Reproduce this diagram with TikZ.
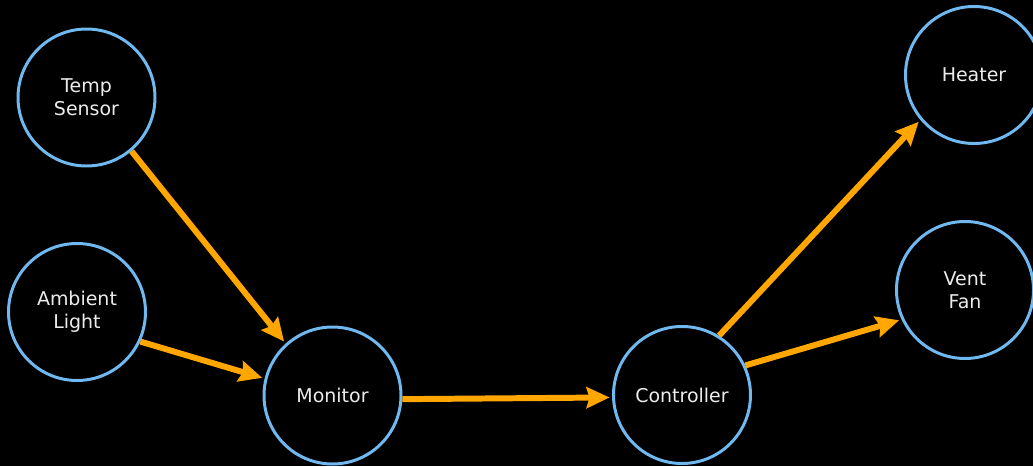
\documentclass[tikz,border=0pt]{standalone}
\usepackage{fontspec}
\setmainfont{DejaVu Sans}
\usetikzlibrary{positioning,arrows.meta}

\definecolor{ringblue}{RGB}{112,184,240}
\definecolor{flow}{RGB}{255,166,0}
\definecolor{label}{RGB}{236,236,236}

\begin{document}
\begin{tikzpicture}[
		unit/.style={circle, draw=ringblue, line width=1.7pt, minimum size=2.74cm, inner sep=0pt,
			text=label, align=center, font=\fontsize{10.8}{13}\selectfont},
		feed/.style={-{Stealth[length=0.46cm, width=0.42cm, inset=0.06cm]}, draw=flow, line width=3.4pt, shorten >=0.05cm}
	]
				\fill[black] (0, 0) rectangle (20.66, -9.32);
				\useasboundingbox (0, 0) rectangle (20.66, -9.32);
				\node[unit] (T) at (1.73, -1.95) {Temp\\Sensor};
				\node[unit] (A) at (1.54, -6.24) {Ambient\\Light};
				\node[unit] (M) at (6.65, -7.91) {Monitor};
				\node[unit] (C) at (13.64, -7.90) {Controller};
				\node[unit] (H) at (19.48, -1.50) {Heater};
				\node[unit] (V) at (19.30, -5.80) {Vent\\Fan};
				\draw[feed] (T.-50) -- (M.132);
				\draw[feed] (A.-25) -- (M.166);
				\draw[feed] (M.-3) -- (C.182);
				\draw[feed] (C.58) -- (H.220);
				\draw[feed] (C.25) -- (V.205);
			\end{tikzpicture}
\end{document}
